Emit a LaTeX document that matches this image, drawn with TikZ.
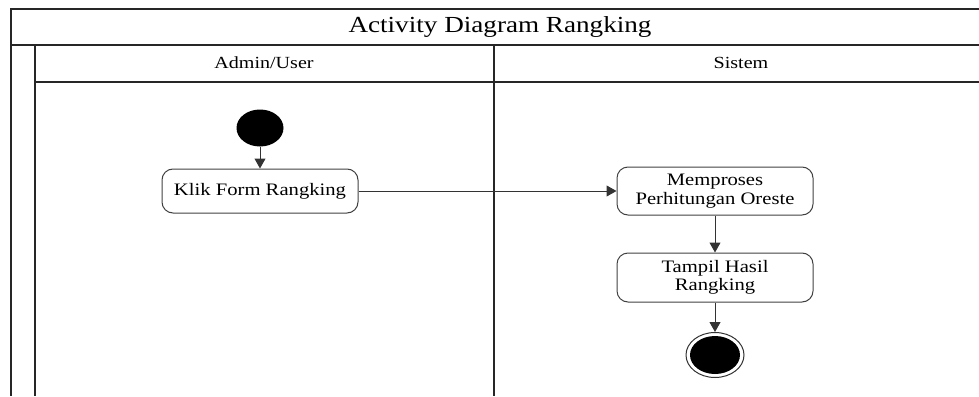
\documentclass[tikz,border=0pt]{standalone}
\usepackage{fontspec}
\setmainfont[FakeStretch=1.18]{Liberation Serif}
\usetikzlibrary{arrows.meta,shapes.geometric}
\begin{document}
\begin{tikzpicture}[x=1pt,y=-1pt,
  frame/.style={draw=black!85, line width=1.3pt},
  lanehead/.style={font=\fontsize{17}{19}\selectfont, text=black},
  action/.style={draw=black!75, line width=1pt, rounded corners=11pt,
    minimum width=196pt, align=center, inner sep=0pt,
    font=\fontsize{17.5}{18.5}\selectfont, text=black},
  flow/.style={draw=black!80, line width=1pt, -{Triangle[length=10pt,width=11pt]}},
  ]
\useasboundingbox (0,0) rectangle (979,396);
% swimlane frame
\draw[frame] (11,396) -- (11,9) -- (979,9);
\draw[frame] (11,45) -- (979,45);
\draw[frame] (35,82) -- (979,82);
\draw[frame] (35,45) -- (35,396);
\draw[frame] (494,45) -- (494,396);
\node[font=\fontsize{23}{26}\selectfont, text=black] (title) at (500,27) {Activity Diagram Rangking};
\node[lanehead] (laneA) at (264,63) {Admin/User};
\node[lanehead] (laneB) at (741,63) {Sistem};
% activity nodes
\node[ellipse, fill=black, minimum width=47pt, minimum height=37pt, inner sep=0pt] (start) at (260,128) {};
\node[action, minimum height=44pt] (klik) at (260,191) {Klik Form Rangking};
\node[action, minimum height=48pt] (proses) at (715,191) {Memproses\\Perhitungan Oreste};
\node[action, minimum height=49pt] (hasil) at (715,277.5) {Tampil Hasil\\Rangking};
\node[ellipse, draw=black!80, line width=1pt, minimum width=58pt, minimum height=45pt, inner sep=0pt] (end) at (715,355) {};
\fill[black] (end.center) ellipse [x radius=25, y radius=19];
% control flow
\draw[flow] (start) -- (klik);
\draw[flow] (klik) -- (proses);
\draw[flow] (proses) -- (hasil);
\draw[flow] (hasil) -- (end);
\end{tikzpicture}
\end{document}
